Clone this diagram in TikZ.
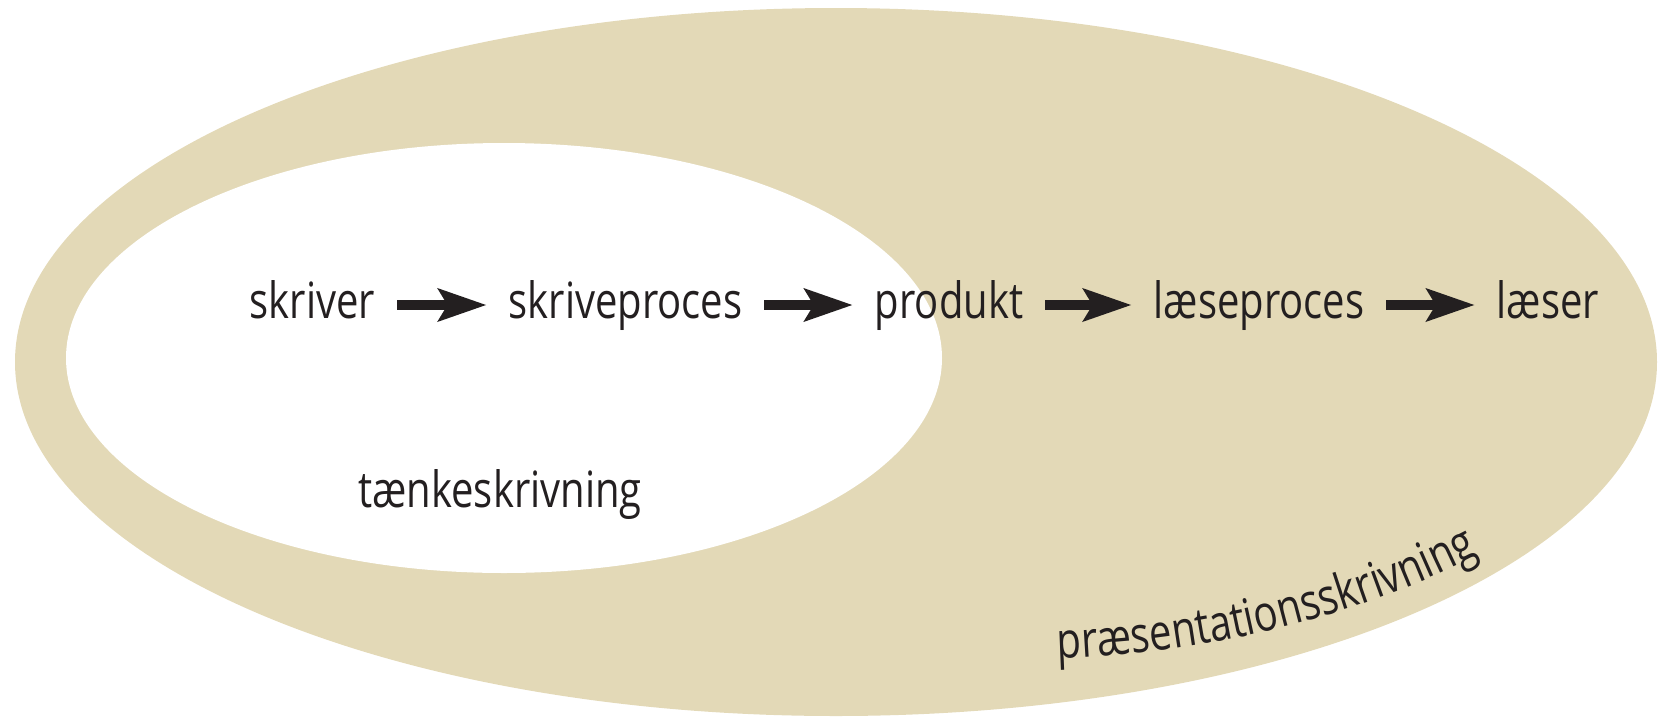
\documentclass[tikz,border=0pt]{standalone}
\usepackage{fontspec}
\usetikzlibrary{arrows.meta,shapes.geometric,decorations.text}
\newfontfamily\wordfont[FakeStretch=0.8]{Open Sans}
\newcommand{\wordsize}{\wordfont\fontsize{50}{60}\selectfont}
\definecolor{beige}{RGB}{227,217,183}
\definecolor{ink}{RGB}{35,31,32}
\begin{document}
\begin{tikzpicture}[x=1pt,y=1pt,
  word/.style={font=\wordsize, text=ink, anchor=base, inner xsep=22pt, inner ysep=0pt, outer sep=0pt},
  arr/.style={draw=ink, line width=10pt, -{Stealth[length=48pt,width=32pt,inset=9pt]}},
  blob/.style={ellipse, inner sep=0pt, outer sep=0pt, draw=none}]
\useasboundingbox (0,0) rectangle (1658,-721);
\node[blob, fill=beige, minimum width=1642pt, minimum height=708pt] (outer) at (836,-362) {};
\node[blob, fill=white, minimum width=876pt, minimum height=430pt] (inner) at (504,-358) {};
\node[word] (w1) at (312.5,-318) {skriver};
\node[word] (w2) at (625.5,-318) {skriveproces};
\node[word] (w3) at (949,-318) {produkt};
\node[word] (w4) at (1259,-318) {læseproces};
\node[word] (w5) at (1548,-318) {læser};
\node[word] (tk) at (500,-507) {tænkeskrivning};
\draw[arr] ([yshift=13pt]w1.base east) -- ([yshift=13pt]w2.base west);
\draw[arr] ([yshift=13pt]w2.base east) -- ([yshift=13pt]w3.base west);
\draw[arr] ([yshift=13pt]w3.base east) -- ([yshift=13pt]w4.base west);
\draw[arr] ([yshift=13pt]w4.base east) -- ([yshift=13pt]w5.base west);
\path[decorate, decoration={text along path, text align={center},
  text={|\color{ink}\wordsize|præsentationsskrivning}}]
  (1045,-659) .. controls (1200,-657) and (1370,-615) .. (1490,-548);
\end{tikzpicture}
\end{document}
